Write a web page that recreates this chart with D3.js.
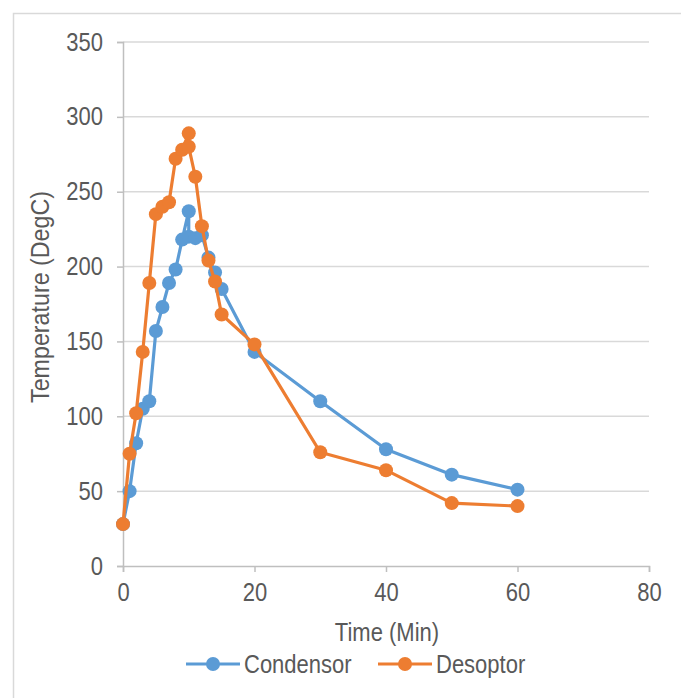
<!DOCTYPE html>
<html>
<head>
<meta charset="utf-8">
<script src="https://cdn.jsdelivr.net/npm/d3@7"></script>
<style>
html,body{margin:0;padding:0;background:#fff;}
svg{display:block;}
text{font-family:"Liberation Sans",Arial,sans-serif;fill:#595959;}
</style>
</head>
<body>
<svg id="chart" width="681" height="698"></svg>
<script>
const condensorTime = [0,1,2,3,4,5,6,7,8,9,10,10,11,12,13,14,15,20,30,40,50,60];
const condensorTemp = [28,50,82,105,110,157,173,189,198,218,237,220,219,221,206,196,185,143,110,78,61,51];
const desoptorTime = [0,1,2,3,4,5,6,7,8,9,10,10,11,12,13,14,15,20,30,40,50,60];
const desoptorTemp = [28,75,102,143,189,235,240,243,272,278,289,280,260,227,204,190,168,148,76,64,42,40];
const xTicks = [0,20,40,60,80];
const yTicks = [0,50,100,150,200,250,300,350];
const seriesNames = ["Condensor","Desoptor"];
const colors = ["#5b9bd5","#ed7d31"];

const svg = d3.select("#chart");
const W = 681, H = 698;
const FS = 25;
const x = d3.scaleLinear().domain([0,80]).range([123,649]);
const y = d3.scaleLinear().domain([0,350]).range([566,42]);

// outer border
svg.append("rect").attr("x",13.5).attr("y",13.5).attr("width",W).attr("height",H)
  .attr("fill","none").attr("stroke","#d9d9d9").attr("stroke-width",1.5);

// gridlines
svg.append("g").selectAll("line").data(yTicks.filter(d=>d>0)).join("line")
  .attr("x1",x(0)).attr("x2",x(80)).attr("y1",d=>y(d)).attr("y2",d=>y(d))
  .attr("stroke","#d9d9d9").attr("stroke-width",1.5);

// y axis
const yAxis = svg.append("g").attr("transform",`translate(${x(0)},0)`)
  .call(d3.axisLeft(y).tickValues(yTicks).tickSize(6).tickPadding(14).tickFormat(d3.format("d")));
yAxis.select(".domain").attr("stroke","#bfbfbf").attr("stroke-width",1.5);
yAxis.selectAll(".tick line").attr("stroke","#bfbfbf").attr("stroke-width",1.5);
yAxis.selectAll(".tick text").attr("font-size",FS).attr("font-family",null).attr("fill","#595959");

// x axis
const xAxis = svg.append("g").attr("transform",`translate(0,${y(0)})`)
  .call(d3.axisBottom(x).tickValues(xTicks).tickSize(6).tickPadding(11).tickFormat(d3.format("d")));
xAxis.select(".domain").attr("stroke","#bfbfbf").attr("stroke-width",1.5);
xAxis.selectAll(".tick line").attr("stroke","#bfbfbf").attr("stroke-width",1.5);
xAxis.selectAll(".tick text").attr("font-size",FS).attr("font-family",null).attr("fill","#595959");

// axis titles
svg.append("text").attr("x",387).attr("y",641).attr("text-anchor","middle")
  .attr("font-size",FS).text("Time (Min)");
svg.append("text").attr("class","ytitle").attr("transform","translate(49,297) rotate(-90)").attr("text-anchor","middle")
  .attr("font-size",FS).text("Temperature (DegC)");

// series
const series = [
  {name:seriesNames[0], color:colors[0], pts:condensorTime.map((t,i)=>[t,condensorTemp[i]])},
  {name:seriesNames[1], color:colors[1], pts:desoptorTime.map((t,i)=>[t,desoptorTemp[i]])}
];
const line = d3.line().x(d=>x(d[0])).y(d=>y(d[1]));
series.forEach(s=>{
  const g = svg.append("g");
  g.append("path").attr("d",line(s.pts)).attr("fill","none").attr("stroke",s.color)
    .attr("stroke-width",3.2).attr("stroke-linejoin","round");
  g.selectAll("circle").data(s.pts).join("circle")
    .attr("cx",d=>x(d[0])).attr("cy",d=>y(d[1])).attr("r",7).attr("fill",s.color);
});

// legend
const legendX = [186,378];
series.forEach((s,i)=>{
  const g = svg.append("g").attr("transform",`translate(${legendX[i]},664)`);
  g.append("line").attr("x1",0).attr("x2",54).attr("y1",0).attr("y2",0)
    .attr("stroke",s.color).attr("stroke-width",3.2);
  g.append("circle").attr("cx",27).attr("cy",0).attr("r",7).attr("fill",s.color);
  g.append("text").attr("x",58).attr("y",9).attr("font-size",FS).text(s.name);
});

// condense text horizontally (narrow font look)
svg.selectAll("text").each(function(){
  const len = this.getComputedTextLength();
  const k = this.classList.contains("ytitle") ? 0.93 : 0.88;
  d3.select(this).attr("textLength",len*k).attr("lengthAdjust","spacingAndGlyphs");
});
</script>
</body>
</html>
